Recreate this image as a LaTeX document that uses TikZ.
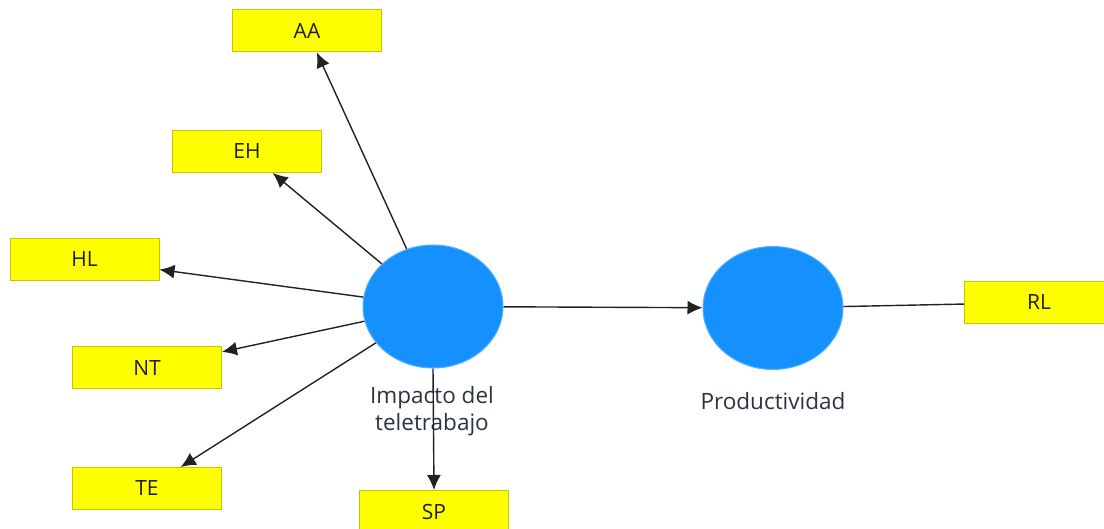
\documentclass[tikz,border=0pt]{standalone}
\usepackage{fontspec}
\setmainfont{Open Sans}
\usetikzlibrary{shapes.geometric,arrows.meta}
\definecolor{boxfill}{HTML}{FFFF00}
\definecolor{boxline}{HTML}{C8C400}
\definecolor{latent}{HTML}{1490FF}
\definecolor{edge}{HTML}{222222}
\definecolor{txt}{HTML}{1E1E1E}
\definecolor{lbltxt}{HTML}{2A3440}
\begin{document}
\begin{tikzpicture}[x=1pt,y=-1pt,
  indicator/.style={draw=boxline,line width=1pt,fill=boxfill,minimum width=149pt,minimum height=42pt,inner sep=0pt,font=\fontsize{21}{24}\selectfont,text=txt},
  construct/.style={ellipse,fill=latent,draw=latent!70!white,line width=1pt,minimum width=140pt,minimum height=123pt,inner sep=0pt},
  lbl/.style={font=\fontsize{22.5}{27}\selectfont,text=lbltxt,align=center},
  link/.style={draw=edge,line width=1.4pt,-{Latex[length=15pt,width=14pt]}},
  plain/.style={draw=edge,line width=1.4pt}]
\useasboundingbox (0,0) rectangle (1104,529);
\node[construct] (imp) at (433,306.5) {};
\node[construct] (prod) at (773,308) {};
\node[indicator] (AA) at (307,31) {AA};
\node[indicator] (EH) at (247,151.5) {EH};
\node[indicator] (HL) at (84.5,259.5) {HL};
\node[indicator] (NT) at (147,368) {NT};
\node[indicator] (TE) at (147,488.5) {TE};
\node[indicator] (SP) at (434,511.5) {SP};
\node[indicator] (RL) at (1039,302.5) {RL};
\node[lbl] (impl) at (432,411) {Impacto del\\teletrabajo};
\node[lbl] (prodl) at (773,401) {Productividad};
\draw[link] (imp) -- (AA);
\draw[link] (imp) -- (EH);
\draw[link] (imp) -- (HL);
\draw[link] (imp) -- (NT);
\draw[link] (imp) -- (TE);
\draw[link] (imp.south) -- (SP.north);
\draw[link] (imp) -- (prod);
\draw[plain] (prod) -- (RL);
\end{tikzpicture}
\end{document}
